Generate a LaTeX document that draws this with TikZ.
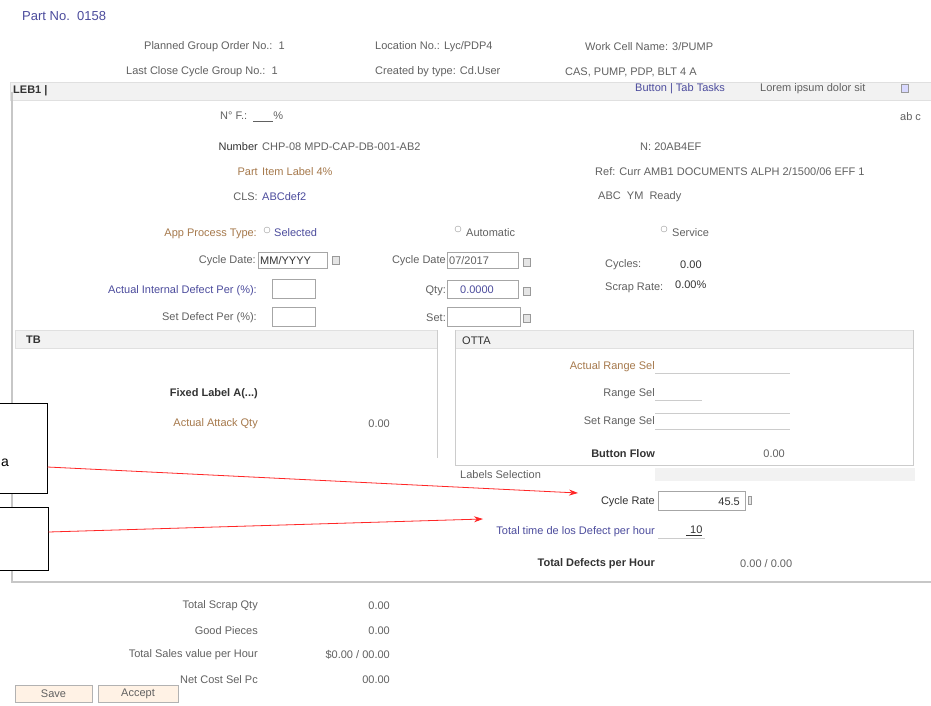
\documentclass[tikz,border=0pt]{standalone}
\usepackage{fontspec}
\setmainfont{Liberation Sans}
\usetikzlibrary{arrows.meta}
\begin{document}
\begin{tikzpicture}[x=1pt,y=-1pt,
  every node/.style={inner sep=0pt,font=\fontsize{11}{12}\selectfont,text=black!62},
  lbl/.style={anchor=east},
  val/.style={anchor=west},
  dark/.style={text=black!80},
  bld/.style={text=black!80,font=\fontsize{11}{12}\selectfont\bfseries},
  blu/.style={text=blue!45!black!70},
  org/.style={text=orange!50!black!70},
  frame/.style={draw=black!22,line width=2pt},
  thin/.style={draw=black!20,line width=0.8pt},
  bar/.style={fill=black!5,draw=black!12,line width=0.5pt},
  inbox/.style={draw=black!35,fill=white,line width=0.6pt},
  icon/.style={draw=black!40,fill=black!10,line width=0.4pt,minimum width=7pt,minimum height=8pt},
  radio/.style={circle,draw=black!40,minimum size=6pt},
  btn/.style={draw=black!30,fill=orange!10,minimum height=17pt,line width=0.6pt},
  callout/.style={draw=black,line width=1pt,fill=white},
  redarrow/.style={draw=red!85,line width=0.8pt,-{Stealth[length=9pt,width=6pt]}}
]
\useasboundingbox (0,0) rectangle (931,706);
\clip (0,0) rectangle (931,706);
\fill[white] (0,0) rectangle (931,706);

% title and top rows
\node[val,blu,font=\fontsize{13}{14}\selectfont] (title) at (22,16) {Part No.\ \ 0158};
\node[lbl] (t1) at (285,47) {Planned Group Order No.:\ \ 1};
\node[val] (t2) at (375,47) {Location No.: Lyc/PDP4};
\node[val] (t3) at (585,47) {Work Cell Name: 3/PUMP};
\node[lbl] (t4) at (278,72) {Last Close Cycle Group No.:\ \ 1};
\node[val] (t5) at (375,72) {Created by type: Cd.User};
\node[val] (t6) at (565,72) {CAS, PUMP, PDP, BLT 4 A};

% header bar
\path[bar] (10,82) rectangle (931,100);
\node[val,bld] (hd) at (13,91) {LEB1 |};
\node[val,blu] (hb1) at (635,89) {Button | Tab Tasks};
\node[val] (hb2) at (760,89) {Lorem ipsum dolor sit};
\node[icon,fill=blue!15] (hb3) at (905,88) {};
\node[val] (hb4) at (900,117) {ab c};

% main frame
\draw[frame] (12,92) -- (12,582) -- (931,582);

% info block
\node[val] (nf) at (220,117) {N° F.:\ \ \underline{\hspace{20pt}}\%};
\node[lbl,dark] (nl) at (258,147) {Number};
\node[val] (nv) at (262,147) {CHP-08 MPD-CAP-DB-001-AB2};
\node[lbl,org] (pl) at (258,172) {Part};
\node[val,org] (pv) at (262,172) {Item Label 4\%};
\node[lbl] (cl) at (258,197) {CLS:};
\node[val,blu] (cv) at (262,197) {ABCdef2};
\node[val] (r1) at (640,147) {N: 20AB4EF};
\node[val] (r2) at (595,172) {Ref: Curr AMB1 DOCUMENTS ALPH 2/1500/06 EFF 1};
\node[val] (r3) at (598,197) {ABC\ \ YM\ \ Ready};

% form rows
\node[lbl,org] (ap) at (257,234) {App Process Type:};
\node[radio] (rd1) at (267,230) {};
\node[val,blu] (rt1) at (274,233) {Selected};
\node[radio] (rd2) at (458,229) {};
\node[val] (rt2) at (466,233) {Automatic};
\node[radio] (rd3) at (664,229) {};
\node[val] (rt3) at (672,233) {Service};

\node[lbl] (cd1) at (256,261) {Cycle Date:};
\path[inbox] (258,252) rectangle (327,268);
\node[val,dark] (cd1v) at (260,261) {MM/YYYY};
\node[icon] (ic1) at (336,260) {};
\node[lbl] (cd2) at (446,261) {Cycle Date};
\path[inbox] (447,252) rectangle (518,268);
\node[val] (cd2v) at (449,261) {07/2017};
\node[icon] (ic2) at (527,262) {};
\node[val] (cy) at (605,265) {Cycles:};
\node[val,dark] (cyv) at (680,265) {0.00};

\node[lbl,blu] (ad) at (257,291) {Actual Internal Defect Per (\%):};
\path[inbox] (272,279) rectangle (315,298);
\node[lbl] (qt) at (446,291) {Qty:};
\path[inbox] (447,280) rectangle (518,298);
\node[val,blu] (qtv) at (460,290) {0.0000};
\node[icon] (ic3) at (527,291) {};
\node[val] (sr) at (605,288) {Scrap Rate:};
\node[val,dark] (srv) at (675,285) {0.00\%};

\node[lbl] (sd) at (257,318) {Set Defect Per (\%):};
\path[inbox] (272,307) rectangle (315,326);
\node[lbl] (st) at (446,318) {Set:};
\path[inbox] (447,307) rectangle (520,326);
\node[icon] (ic4) at (527,318) {};

% left subpanel
\path[bar] (15,330) rectangle (437,348);
\node[val,bld] (tb) at (26,340) {TB};
\draw[thin] (437,330) -- (437,458);
\node[lbl,bld] (fl) at (258,394) {Fixed Label A(...)};
\node[lbl,org] (aq) at (258,424) {Actual Attack Qty};
\node[lbl] (aqv) at (390,424) {0.00};

% right subpanel
\path[bar] (455,330) rectangle (913,348);
\node[val,dark] (ot) at (462,341) {OTTA};
\draw[thin] (455,330) -- (455,465) -- (913,465) -- (913,330);
\node[lbl,org] (ar) at (655,367) {Actual Range Sel};
\draw[thin] (655,373) -- (790,373);
\node[lbl] (rs) at (655,394) {Range Sel};
\draw[thin] (655,400) -- (702,400);
\node[lbl] (sr2) at (655,422) {Set Range Sel};
\draw[thin] (655,413) -- (790,413);
\draw[thin] (655,429) -- (790,429);
\node[lbl,bld] (bf) at (655,454) {Button Flow};
\node[lbl] (bfv) at (785,454) {0.00};

\node[val] (ls) at (460,475) {Labels Selection};
\fill[black!5] (655,468) rectangle (915,481);

\node[lbl,dark] (cr) at (655,502) {Cycle Rate};
\path[inbox] (658,491) rectangle (745,510);
\node[lbl,dark] (crv) at (740,502) {45.5};
\node[icon,minimum width=3pt] (ic5) at (750,500) {};
\node[lbl,blu] (lt) at (655,532) {Total time de los Defect per hour};
\node[val,dark] (ltv) at (686,531) {\underline{\hspace{4pt}10}};
\draw[thin] (658,538) -- (705,538);
\node[lbl,bld] (td) at (655,564) {Total Defects per Hour};
\node[val] (tdv) at (740,564) {0.00\ /\ 0.00};

% bottom totals
\node[lbl] (b1) at (258,606) {Total Scrap Qty};
\node[lbl] (b1v) at (390,606) {0.00};
\node[lbl] (b2) at (258,631) {Good Pieces};
\node[lbl] (b2v) at (390,631) {0.00};
\node[lbl] (b3) at (258,655) {Total Sales value per Hour};
\node[lbl] (b3v) at (390,655) {\$0.00 / 00.00};
\node[lbl] (b4) at (258,680) {Net Cost Sel Pc};
\node[lbl] (b4v) at (390,680) {00.00};

\node[btn,minimum width=77pt] (save) at (53.5,694) {Save};
\node[btn,minimum width=80pt] (acc) at (138,694) {Accept};

% callouts
\node[callout,minimum width=78pt,minimum height=90pt] (callA) at (8,448) {};
\node[font=\fontsize{14}{16}\selectfont,text=black] (aTxt) at (5,463) {a};
\node[callout,minimum width=78pt,minimum height=63pt] (callB) at (9,538.5) {};
\coordinate (tA) at (578,493);
\coordinate (tB) at (483,519);
\draw[redarrow] ([yshift=-19pt]callA.east) -- (tA);
\draw[redarrow] ([yshift=6.5pt]callB.east) -- (tB);
\end{tikzpicture}
\end{document}
